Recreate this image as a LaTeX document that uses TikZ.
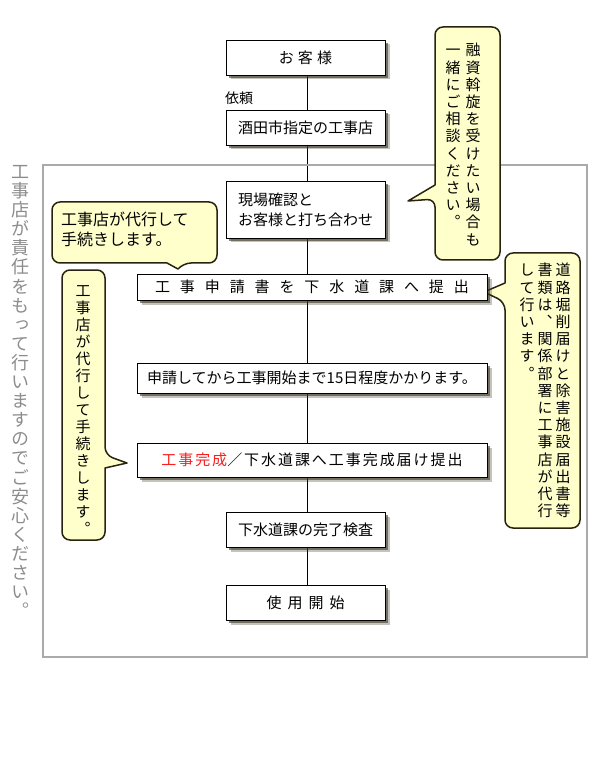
\documentclass[tikz,border=0pt]{standalone}
\usepackage{fontspec}
\setmainfont{Noto Sans CJK JP}
\newfontfamily\vjp[RawFeature=+vert]{Noto Sans CJK JP}
\usetikzlibrary{shadows,backgrounds}
\definecolor{callfill}{RGB}{255,255,204}
\definecolor{calldraw}{RGB}{40,35,15}
\definecolor{framegray}{RGB}{170,170,170}
\definecolor{textgray}{RGB}{140,140,140}
\definecolor{shadowc}{RGB}{60,55,35}
\definecolor{redtxt}{RGB}{250,30,30}
\newlength\vtstep
\def\vtEnd{}
\def\vtA#1#2\vtEnd{\hbox to 1em{\hss\vrule height .8\vtstep depth .2\vtstep width 0pt\smash{#1}\hss}\if\relax\detokenize{#2}\relax\else\vtA#2\vtEnd\fi}
\newcommand\vcol[2]{\vtop{\offinterlineskip\setlength\vtstep{#1}\vtA#2\vtEnd}}
\tikzset{
  box/.style={draw=black, fill=white, line width=0.8pt, inner sep=0pt,
    font=\fontsize{15}{20}\selectfont,
    general shadow={shadow xshift=4.5pt, shadow yshift=-4.5pt, fill=shadowc, opacity=0.3},
    general shadow={shadow xshift=3pt, shadow yshift=-3pt, fill=shadowc, opacity=0.6}},
  smallbox/.style={box, minimum width=159pt, minimum height=35pt},
  widebox/.style={box, minimum width=350pt},
  callout/.style={draw=calldraw, fill=callfill, line width=1.5pt, line join=round},
  vtxt/.style={anchor=north, inner sep=0pt, font=\vjp\fontsize{15}{15}\selectfont},
}
\begin{document}
\begin{tikzpicture}[x=1pt,y=-1pt]
\useasboundingbox (0,0) rectangle (595,775);
% frame
\draw[framegray, line width=2pt] (43,165) rectangle (587,657);
% big gray vertical text
\node[anchor=north, inner sep=0pt, text=textgray, font=\vjp\fontsize{18}{18}\selectfont] (side) at (21,163)
  {\vcol{19.1pt}{工事店が責任をもって行いますのでご安心ください。}};
% callout A (top right)
\draw[callout, rounded corners=8pt] (467,27) -- (500,27) -- (500,260) -- (435,260) -- (435,199)
  [sharp corners] -- (408,201) -- (435,185) [rounded corners=8pt] -- (435,27) -- cycle;
\node[vtxt] (a1) at (473,42) {\vcol{17.2pt}{融資斡旋を受けたい場合も}};
\node[vtxt] (a2) at (453,42) {\vcol{17.2pt}{一緒にご相談ください。}};
% callout B (top left)
\draw[callout, rounded corners=8pt] (52,232) -- (52,202) -- (217,202) -- (217,263) -- (183,263)
  [sharp corners] -- (178,269) -- (167,263) [rounded corners=8pt] -- (52,263) -- cycle;
\node[anchor=north west, inner sep=0pt, align=left, font=\fontsize{16}{20}\selectfont] (b1) at (61,212)
  {工事店が代行して\\手続きします。};
% callout C (left vertical)
\draw[callout, rounded corners=8pt] (83,270) -- (105,270) -- (105,455) [sharp corners] -- (127,463) -- (105,468)
  [rounded corners=8pt] -- (105,540) -- (62,540) -- (62,270) -- cycle;
\node[vtxt] (c1) at (83,283) {\vcol{17pt}{工事店が代行して手続きします。}};
% callout D (right)
\draw[callout, rounded corners=8pt] (540,253) -- (580,253) -- (580,528) -- (505,528) -- (505,302)
  [sharp corners] -- (484,292) -- (505,283) [rounded corners=8pt] -- (505,253) -- cycle;
\node[vtxt] (d1) at (563,262) {\vcol{17.2pt}{道路堀削届けと除害施設届出書等}};
\node[vtxt] (d2) at (545,262) {\vcol{17.2pt}{書類は、関係部署に工事店が代行}};
\node[vtxt] (d3) at (527,262) {\vcol{17.2pt}{して行います。}};
% flow boxes
\node[smallbox] (n1) at (305.5,57.5) {\addfontfeatures{LetterSpace=27}お客様\hspace{-0.27em}};
\node[anchor=west, inner sep=0pt, font=\fontsize{14}{16}\selectfont] (irai) at (225,98) {依頼};
\node[smallbox] (n2) at (305.5,127.5) {酒田市指定の工事店};
\node[smallbox, minimum height=57pt, align=left] (n3) at (305.5,209.5) {現場確認と\\お客様と打ち合わせ};
\node[widebox, minimum height=26pt] (n4) at (312,287) {\addfontfeatures{LetterSpace=66}工事申請書を下水道課へ提出\hspace{-0.66em}};
\node[widebox, minimum height=30pt] (n5) at (312,378) {申請してから工事開始まで15日程度かかります。};
\node[widebox, minimum height=34pt] (n6) at (312,460) {\addfontfeatures{LetterSpace=13}{\color{redtxt}工事完成}／下水道課へ工事完成届け提出\hspace{-0.13em}};
\node[smallbox] (n7) at (305.5,529.5) {下水道課の完了検査};
\node[smallbox] (n8) at (305.5,602.5) {\addfontfeatures{LetterSpace=40}使用開始\hspace{-0.4em}};
\begin{pgfonlayer}{background}
\draw[line width=0.8pt] ([xshift=1.5pt]n1.south) -- ([xshift=1.5pt]n8.north);
\end{pgfonlayer}
\end{tikzpicture}
\end{document}
